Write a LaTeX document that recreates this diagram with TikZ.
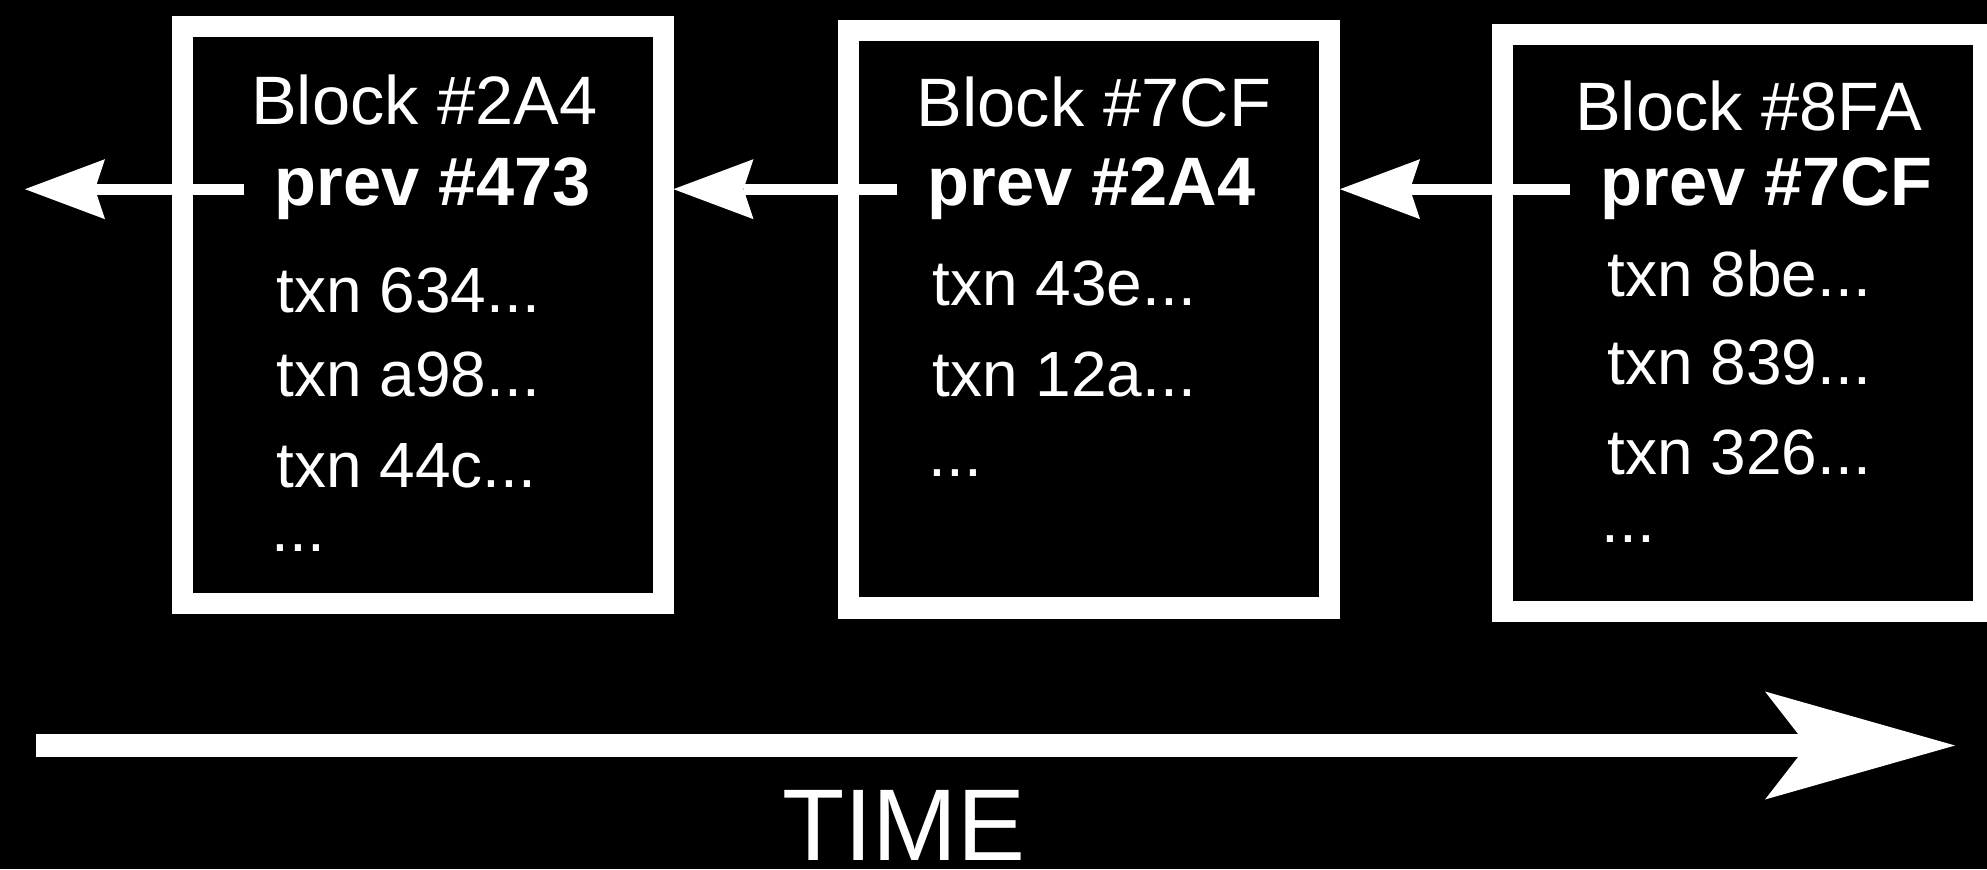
\documentclass[tikz,border=0pt]{standalone}
\usepackage{fontspec}
\setmainfont{Liberation Sans}
\usetikzlibrary{arrows.meta,calc}

\begin{document}
\begin{tikzpicture}[
    blockbox/.style={draw=white,line width=0.21cm,minimum width=4.81cm,minimum height=5.77cm,inner sep=0pt},
    blocktitle/.style={text=white,anchor=base,inner sep=0pt,font=\fontsize{19.5}{20}\selectfont},
    prevline/.style={text=white,anchor=base west,inner xsep=0.3cm,inner ysep=0pt,font=\fontsize{19.5}{20}\selectfont\bfseries},
    txnline/.style={text=white,anchor=base west,inner sep=0pt,font=\fontsize{18.2}{19}\selectfont},
    prevlink/.style={draw=white,line width=0.11cm,-{Stealth[length=0.8cm,width=0.6cm,inset=0.1cm,line width=0pt]}},
    timelink/.style={draw=white,line width=0.23cm,-{Stealth[length=1.9cm,width=1.08cm,inset=0.42cm,line width=0pt]}}]
      \useasboundingbox (0,0) rectangle (19.87,8.69);
      \fill[black] (0,0) rectangle (19.87,8.69);
      % blocks
      \node[blockbox](b1) at (4.225,5.535) {};
      \node[blockbox](b2) at (10.89,5.495) {};
      \node[blockbox](b3) at (17.425,5.46) {};
      \node[blocktitle](h1) at (4.245,7.44) {Block \#2A4};
      \node[blocktitle](h2) at (10.94,7.42) {Block \#7CF};
      \node[blocktitle](h3) at (17.485,7.38) {Block \#8FA};
      \node[prevline](p1) at (2.44,6.63) {prev \#473};
      \node[prevline](p2) at (8.97,6.63) {prev \#2A4};
      \node[prevline](p3) at (15.70,6.63) {prev \#7CF};
      % transactions
      \node[txnline](x11) at (2.76,5.56) {txn 634...};
      \node[txnline](x12) at (2.76,4.72) {txn a98...};
      \node[txnline](x13) at (2.76,3.81) {txn 44c...};
      \node[txnline](x14) at (2.71,3.17) {...};
      \node[txnline](x21) at (9.32,5.63) {txn 43e...};
      \node[txnline](x22) at (9.32,4.72) {txn 12a...};
      \node[txnline](x23) at (9.28,3.92) {...};
      \node[txnline](x31) at (16.07,5.72) {txn 8be...};
      \node[txnline](x32) at (16.07,4.84) {txn 839...};
      \node[txnline](x33) at (16.07,3.94) {txn 326...};
      \node[txnline](x34) at (16.01,3.26) {...};
      % back links
      \coordinate(g) at (0.25,6.82);
      \draw[prevlink] (p1.west) -- (p1.west -| g);
      \draw[prevlink] (p2.west) -- (p2.west -| b1.east);
      \draw[prevlink] (p3.west) -- (p3.west -| b2.east);
      % time axis
      \coordinate(t0) at (0.355,1.235);
      \coordinate(t1) at (19.55,1.235);
      \draw[timelink] (t0) -- (t1);
      \node[text=white,anchor=base,inner sep=0pt,font=\fontsize{29}{30}\selectfont](time) at (9.04,0.09) {TIME};
    \end{tikzpicture}
\end{document}
